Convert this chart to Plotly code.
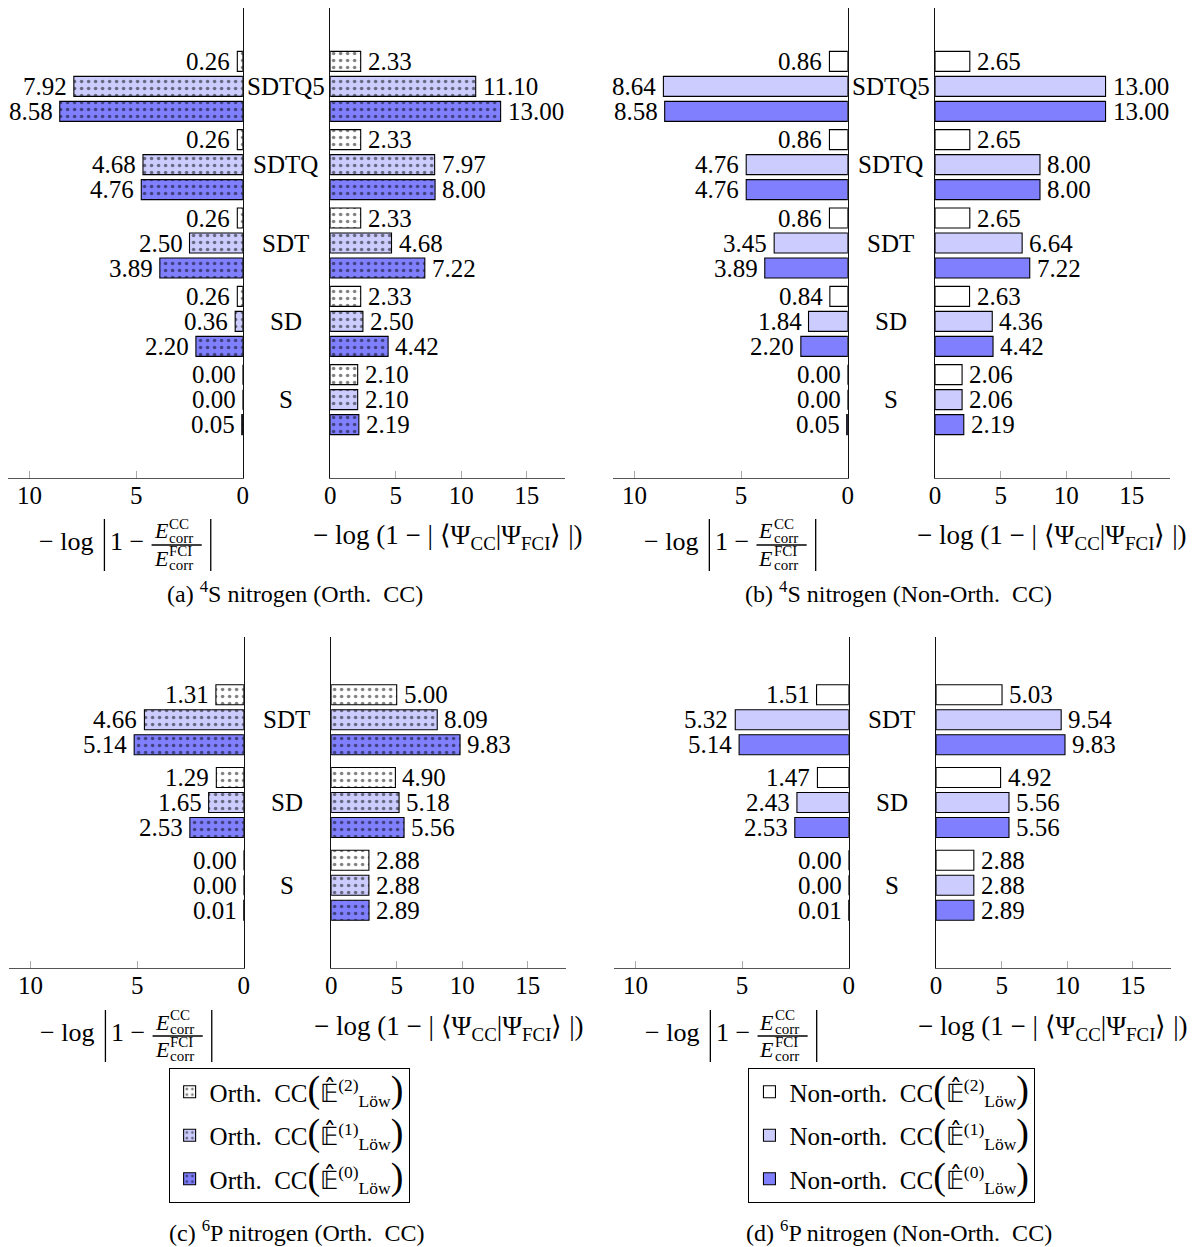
import plotly.graph_objects as go

# ---------------- data ----------------
cats_4S = ["S", "SD", "SDT", "SDTQ", "SDTQ5"]
cats_6P = ["S", "SD", "SDT"]

# values in category order (S ... top)
a_energy_E2 = [0.00, 0.26, 0.26, 0.26, 0.26]
a_energy_E1 = [0.00, 0.36, 2.50, 4.68, 7.92]
a_energy_E0 = [0.05, 2.20, 3.89, 4.76, 8.58]
a_overlap_E2 = [2.10, 2.33, 2.33, 2.33, 2.33]
a_overlap_E1 = [2.10, 2.50, 4.68, 7.97, 11.10]
a_overlap_E0 = [2.19, 4.42, 7.22, 8.00, 13.00]

b_energy_E2 = [0.00, 0.84, 0.86, 0.86, 0.86]
b_energy_E1 = [0.00, 1.84, 3.45, 4.76, 8.64]
b_energy_E0 = [0.05, 2.20, 3.89, 4.76, 8.58]
b_overlap_E2 = [2.06, 2.63, 2.65, 2.65, 2.65]
b_overlap_E1 = [2.06, 4.36, 6.64, 8.00, 13.00]
b_overlap_E0 = [2.19, 4.42, 7.22, 8.00, 13.00]

c_energy_E2 = [0.00, 1.29, 1.31]
c_energy_E1 = [0.00, 1.65, 4.66]
c_energy_E0 = [0.01, 2.53, 5.14]
c_overlap_E2 = [2.88, 4.90, 5.00]
c_overlap_E1 = [2.88, 5.18, 8.09]
c_overlap_E0 = [2.89, 5.56, 9.83]

d_energy_E2 = [0.00, 1.47, 1.51]
d_energy_E1 = [0.00, 2.43, 5.32]
d_energy_E0 = [0.01, 2.53, 5.14]
d_overlap_E2 = [2.88, 4.92, 5.03]
d_overlap_E1 = [2.88, 5.56, 9.54]
d_overlap_E0 = [2.89, 5.56, 9.83]

fills = ["#ffffff", "#ccccff", "#8080ff"]
orders = ["2", "1", "0"]
left_ticks = [0, 5, 10]
right_ticks = [0, 5, 10, 15]
left_range = [11, 0]
right_range = [0, 17.9]

captions = [
    "(a) <sup>4</sup>S nitrogen (Orth.&nbsp; CC)",
    "(b) <sup>4</sup>S nitrogen (Non-Orth.&nbsp; CC)",
    "(c) <sup>6</sup>P nitrogen (Orth.&nbsp; CC)",
    "(d) <sup>6</sup>P nitrogen (Non-Orth.&nbsp; CC)",
]

# ---------------- layout helpers ----------------
W, H = 1195, 1247
FONT = "Liberation Serif"
FS = 25
HX0, HXS = 7.9, 0.9868   # horizontal correction of the rendered page


def px(X):
    return ((X - HX0) / HXS) / W


def py(Y):
    return 1 - Y / H


fig = go.Figure()
layout = dict(
    width=W, height=H, margin=dict(l=0, r=0, t=0, b=0),
    paper_bgcolor="white", plot_bgcolor="rgba(0,0,0,0)",
    barmode="overlay", font=dict(family=FONT, size=FS, color="black"),
)
annotations = []
shapes = []


def legend_name(kind, k):
    big = "<span style='font-size:38px'>%s</span>"
    return (kind + "&nbsp; CC" + big % "(" + "𝔼̂<sup>(" + orders[k] + ")</sup><sub>Löw</sub>" + big % ")")


panels = [
    # cats, energy series, overlap series, patterned, dx shift, row
    (cats_4S, [a_energy_E2, a_energy_E1, a_energy_E0], [a_overlap_E2, a_overlap_E1, a_overlap_E0], True, 0, 0),
    (cats_4S, [b_energy_E2, b_energy_E1, b_energy_E0], [b_overlap_E2, b_overlap_E1, b_overlap_E0], False, 603, 0),
    (cats_6P, [c_energy_E2, c_energy_E1, c_energy_E0], [c_overlap_E2, c_overlap_E1, c_overlap_E0], True, 1, 1),
    (cats_6P, [d_energy_E2, d_energy_E1, d_energy_E0], [d_overlap_E2, d_overlap_E1, d_overlap_E0], False, 604, 1),
]
rows = [(8, 478), (637, 968)]

ax_i = 0
for p_i, (cats, energy, overlap, patterned, dx, row) in enumerate(panels):
    Y0, Y1 = rows[row]
    unit = (Y1 - Y0) / (len(cats) + 1)
    bw = 20 / unit
    bd = 25 / unit
    centers = [bd, 0, -bd]
    ypos = list(range(len(cats)))
    for side, series in (("L", energy), ("R", overlap)):
        ax_i += 1
        xn = "x" if ax_i == 1 else "x%d" % ax_i
        yn = "y" if ax_i == 1 else "y%d" % ax_i
        xk = "xaxis" if ax_i == 1 else "xaxis%d" % ax_i
        yk = "yaxis" if ax_i == 1 else "yaxis%d" % ax_i
        if side == "L":
            X0, X1 = 10 + dx, 244 + dx
        else:
            X0, X1 = 331 + dx, 565 + dx
        layout[xk] = dict(
            domain=[px(X0), px(X1)], anchor=yn,
            range=left_range if side == "L" else right_range,
            tickvals=left_ticks if side == "L" else right_ticks,
            ticks="inside", ticklen=7, tickcolor="#aaaaaa", tickwidth=1,
            showline=True, linecolor="#555555", linewidth=1.4,
            showgrid=False, zeroline=False, fixedrange=True,
            ticklabelstandoff=-5,
            tickfont=dict(size=FS, family=FONT, color="black"),
        )
        layout[yk] = dict(
            domain=[py(Y1), py(Y0)], anchor=xn,
            range=[-1, len(cats)], side="right" if side == "L" else "left",
            showline=True, linecolor="#111111", linewidth=1.3,
            showticklabels=False, ticks="", showgrid=False, zeroline=False,
            fixedrange=True,
        )
        for k in range(3):
            marker = dict(color=fills[k], line=dict(color="black", width=1.1))
            if patterned:
                marker["pattern"] = dict(shape=".", fgcolor="black", size=7,
                                         solidity=0.2, fillmode="overlay")
            show = (side == "L" and row == 1)
            fig.add_trace(go.Bar(
                x=series[k], y=ypos, orientation="h",
                width=bw, offset=centers[k] - bw / 2,
                xaxis=xn, yaxis=yn, marker=marker,
                name=legend_name("Orth." if patterned else "Non-orth.", k),
                showlegend=show, legendgroup="g%d_%d" % (p_i, k),
                legend="legend" if patterned else "legend2",
                hoverinfo="skip",
            ))
            for i, v in enumerate(series[k]):
                annotations.append(dict(
                    x=v, y=ypos[i] + centers[k], xref=xn, yref=yn,
                    text="%.2f" % v, showarrow=False,
                    xanchor="right" if side == "L" else "left",
                    xshift=-5 if side == "L" else 5, yanchor="middle",
                    font=dict(size=FS, family=FONT),
                ))
        if side == "L":
            # category labels between the two panels
            for i, c in enumerate(cats):
                annotations.append(dict(
                    x=px(287 + dx), y=ypos[i], xref="paper", yref=yn,
                    text=c, showarrow=False, xanchor="center", yanchor="middle",
                    font=dict(size=FS, family=FONT),
                ))

    # axis titles
    dy = 0 if row == 0 else 491
    # right title
    annotations.append(dict(
        x=px(448 + dx), y=py(537 + dy), xref="paper", yref="paper",
        text="− log (1 − | ⟨Ψ<sub>CC</sub>|Ψ<sub>FCI</sub>⟩ |)",
        showarrow=False, xanchor="center", yanchor="middle",
        font=dict(size=27, family=FONT),
    ))

    # left title (built from pieces)
    def t(X, Y, text, size, anchor="left"):
        annotations.append(dict(
            x=px(X + dx), y=py(Y + dy), xref="paper", yref="paper", text=text,
            showarrow=False, xanchor=anchor, yanchor="middle",
            font=dict(size=size, family=FONT),
        ))
    t(39, 541, "− log", 26)
    t(110, 541, "1 −", 26)
    t(153, 531, "<i>E</i>", 22)
    t(168, 524, "CC", 15)
    t(168, 538, "corr", 15)
    t(153, 558, "<i>E</i>", 22)
    t(168, 551, "FCI", 15)
    t(168, 565, "corr", 15)
    for Xb in (106, 212):
        shapes.append(dict(type="line", xref="paper", yref="paper",
                           x0=px(Xb + dx), x1=px(Xb + dx), y0=py(519 + dy), y1=py(571 + dy),
                           line=dict(color="black", width=1.3)))
    shapes.append(dict(type="line", xref="paper", yref="paper",
                       x0=px(153 + dx), x1=px(203 + dx), y0=py(545 + dy), y1=py(545 + dy),
                       line=dict(color="black", width=1.3)))
    # caption
    capY = 592 if row == 0 else 1231
    annotations.append(dict(
        x=px(296 + (dx if dx < 100 else 602)), y=py(capY), xref="paper", yref="paper",
        text=captions[p_i], showarrow=False, xanchor="center", yanchor="middle",
        font=dict(size=24, family=FONT),
    ))

legend_common = dict(
    xanchor="left", yanchor="top", bordercolor="black", borderwidth=1,
    bgcolor="white", font=dict(size=FS, family=FONT), itemwidth=30,
    traceorder="grouped", tracegroupgap=8,
)
layout["legend"] = dict(x=px(170), y=py(1068), **legend_common)
layout["legend2"] = dict(x=px(748), y=py(1068), **legend_common)
layout["annotations"] = annotations
layout["shapes"] = shapes
fig.update_layout(**layout)
fig.write_html("out.html", config={"displayModeBar": False},
               post_script="document.body.style.margin='0';document.body.style.overflow='hidden';")
